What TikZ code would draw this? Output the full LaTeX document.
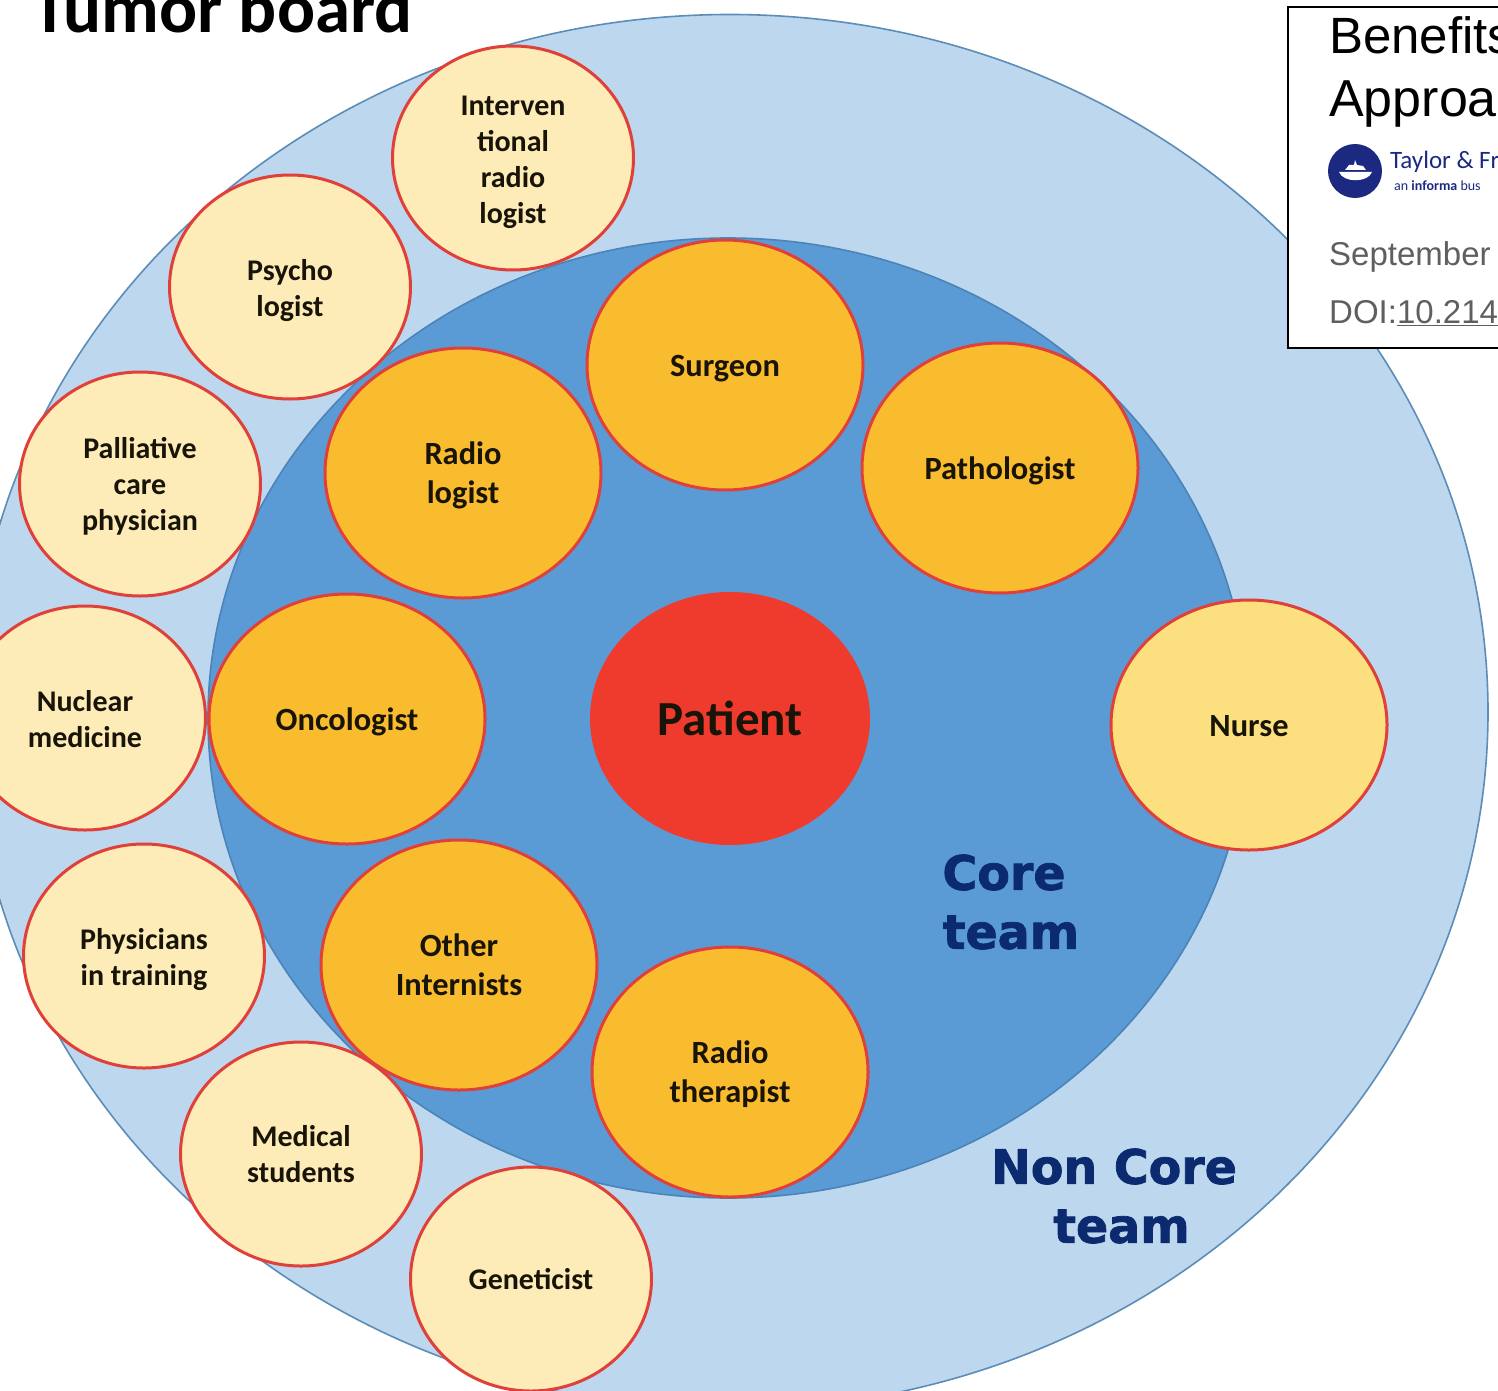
\documentclass[tikz,border=0pt]{standalone}
\usepackage{fontspec}
\setmainfont{Carlito}
\newfontfamily\heavyfont[BoldFeatures={FakeBold=1.6}]{DejaVu Sans}
\newfontfamily\helvfont{Liberation Sans}
\usetikzlibrary{shapes.geometric}
\definecolor{outerfill}{HTML}{BDD7EE}
\definecolor{outerline}{HTML}{5B8DB8}
\definecolor{innerfill}{HTML}{5B9BD5}
\definecolor{innerline}{HTML}{4A84B8}
\definecolor{paleyellow}{HTML}{FDEBB8}
\definecolor{nursefill}{HTML}{FCE080}
\definecolor{orangefill}{HTML}{FABC2F}
\definecolor{redline}{HTML}{E0403A}
\definecolor{patientred}{HTML}{EE3B2E}
\definecolor{navy}{HTML}{0B2A6F}
\definecolor{tfblue}{HTML}{1B2A80}
\definecolor{greytext}{HTML}{5F5F5F}
\definecolor{roletext}{HTML}{181408}
\tikzset{
  x=1pt,y=-1pt,
  role/.style={shape=ellipse,inner sep=0pt,draw=redline,line width=3pt},
  pale/.style={role,fill=paleyellow,minimum width=241pt,minimum height=224pt},
  core/.style={role,fill=orangefill,minimum width=276pt,minimum height=250pt},
  palelabel/.style={inner sep=0pt,align=center,text=roletext,font=\fontsize{30}{36}\selectfont\bfseries},
  corelabel/.style={inner sep=0pt,align=center,text=roletext,font=\fontsize{32.4}{39}\selectfont\bfseries},
  plbl/.style 2 args={label={[palelabel,yshift=#1]center:{#2}}},
  clbl/.style 2 args={label={[corelabel,yshift=#1]center:{#2}}},
  teamlabel/.style={text=navy,align=center,inner sep=0pt,font=\heavyfont\fontsize{47.5}{59}\selectfont\bfseries},
  infotext/.style={anchor=base west,inner sep=0pt,font=\helvfont},
}
\begin{document}
\begin{tikzpicture}
\useasboundingbox (0,0) rectangle (1498,1391);
\clip (0,0) rectangle (1498,1391);
\node[shape=ellipse,minimum width=1516pt,minimum height=1395pt,inner sep=0pt,fill=outerfill,draw=outerline,line width=1.6pt] (outer) at (730,712) {};
\node[shape=ellipse,minimum width=1040pt,minimum height=960pt,inner sep=0pt,fill=innerfill,draw=innerline,line width=1.6pt] (inner) at (728,718) {};
\node[anchor=base west,inner sep=0pt,font=\fontsize{71}{74}\selectfont\bfseries] (title) at (32,33) {Tumor board};
\node[pale,plbl={-4pt}{Interven\\tional\\radio\\logist}] (interv) at (513,158) {};
\node[pale,plbl={-4pt}{Psycho\\logist}] (psycho) at (290,287) {};
\node[pale,plbl={-2pt}{Palliative\\care\\physician}] (pall) at (140,484) {};
\node[pale,plbl={-1pt}{Nuclear\\medicine}] (nuclear) at (85,718) {};
\node[pale,plbl={-4pt}{Physicians\\in training}] (train) at (144,956) {};
\node[core,clbl={0pt}{Other\\Internists}] (other) at (459,965) {};
\node[pale,plbl={0pt}{Medical\\students}] (med) at (301,1154) {};
\node[pale,plbl={0pt}{Geneticist}] (gene) at (531,1279) {};
\node[core,clbl={-4pt}{Surgeon}] (surgeon) at (725,365) {};
\node[core,clbl={-3pt}{Pathologist}] (path) at (1000,468) {};
\node[core,clbl={-2pt}{Radio\\logist}] (radl) at (463,473) {};
\node[core,clbl={-3pt}{Oncologist}] (onco) at (347,719) {};
\node[core,clbl={-2pt}{Radio\\therapist}] (radt) at (730,1072) {};
\node[core,fill=nursefill,clbl={-1pt}{Nurse}] (nurse) at (1249,725) {};
\node[shape=ellipse,inner sep=0pt,fill=patientred,minimum width=280pt,minimum height=253pt,text=roletext,font=\fontsize{49}{50}\selectfont\bfseries] (patient) at (730,718.5) {Patient};
\node[teamlabel] (coreteam) at (1004,902) {Core\\\hspace*{14pt}team};
\node[teamlabel] (noncore) at (1114,1196) {Non Core\\\hspace*{15pt}team};
\node[anchor=north west,minimum width=240pt,minimum height=341pt,inner sep=0pt,fill=white,draw=black,line width=1.6pt] (box) at (1287,6) {};
\node[infotext,font=\helvfont\fontsize{51}{55}\selectfont] (t1) at (1329,54) {Benefits};
\node[infotext,font=\helvfont\fontsize{52}{55}\selectfont] (t2) at (1329,117) {Approa};
\node[circle,fill=tfblue,minimum size=54pt,inner sep=0pt] (logo) at (1355,171) {};
\fill[white] (1339,172) -- (1372,172) .. controls (1368,183) and (1343,183) .. (1339,172) -- cycle;
\fill[white] (1345,170) -- (1349,165) -- (1354,165) -- (1355,160) -- (1357,165) -- (1363,166) -- (1366,170) -- cycle;
\node[infotext,text=tfblue,font=\fontsize{25}{28}\selectfont] (t3) at (1390,169) {Taylor \& Fr};
\node[infotext,text=tfblue,font=\fontsize{14}{16}\selectfont] (t4) at (1394,190) {an \textbf{informa} bus};
\node[infotext,text=greytext,font=\helvfont\fontsize{33}{36}\selectfont] (t5) at (1329,265) {September};
\node[infotext,text=greytext,font=\helvfont\fontsize{33}{36}\selectfont] (t6) at (1329,323) {DOI:\underline{10.214}};
\end{tikzpicture}
\end{document}
